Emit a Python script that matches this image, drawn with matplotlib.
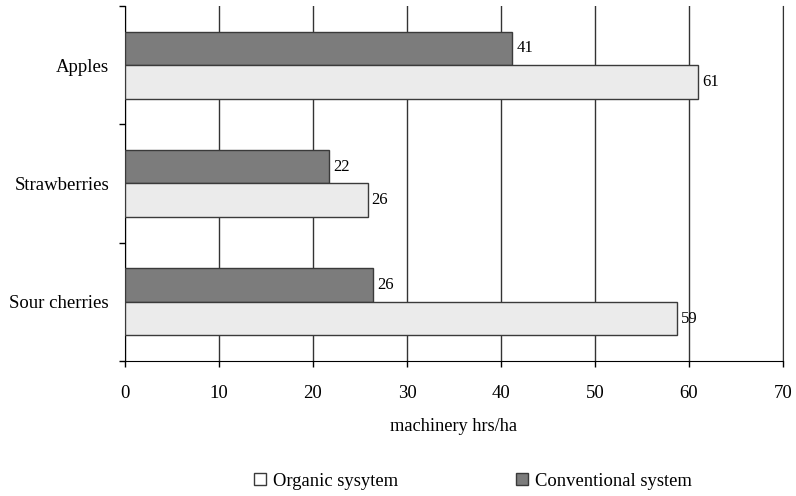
import matplotlib
matplotlib.use("Agg")
import matplotlib.pyplot as plt
from matplotlib.patches import Patch
import numpy as np

categories = ["Apples", "Strawberries", "Sour cherries"]
conventional = [41.2, 21.7, 26.4]
organic = [61.0, 25.8, 58.7]
conv_labels = ["41", "22", "26"]
org_labels = ["61", "26", "59"]
xticks = [0, 10, 20, 30, 40, 50, 60, 70]

plt.rcParams['font.family'] = ['Liberation Serif', 'DejaVu Serif']

fig = plt.figure(figsize=(7.96, 4.96), dpi=100)
ax = fig.add_axes([125/796, 1-361/496, (783-125)/796, (361-6)/496])

y = np.arange(len(categories))
h = 0.283
conv_color = '#7c7c7c'
org_color = '#ebebeb'
edge = '#3a3a3a'

ax.set_axisbelow(True)
ax.xaxis.grid(True, color='#333333', linewidth=1.0)
b1 = ax.barh(y - h/2, conventional, height=h, color=conv_color, edgecolor=edge, linewidth=1.0, zorder=3)
b2 = ax.barh(y + h/2, organic, height=h, color=org_color, edgecolor=edge, linewidth=1.0, zorder=3)

for rect, lab in zip(b1, conv_labels):
    ax.annotate(lab, (rect.get_width(), rect.get_y() + rect.get_height()/2),
                xytext=(3, 0), textcoords='offset points', va='center', ha='left', fontsize=12)
for rect, lab in zip(b2, org_labels):
    ax.annotate(lab, (rect.get_width(), rect.get_y() + rect.get_height()/2),
                xytext=(3, 0), textcoords='offset points', va='center', ha='left', fontsize=12)

ax.set_xlim(0, 70)
ax.set_ylim(len(categories) - 0.5, -0.5)
ax.set_xticks(xticks)
ax.set_xticklabels([str(t) for t in xticks], fontsize=13.5)
ax.set_yticks(y)
ax.set_yticklabels(categories, fontsize=13.5)
ax.set_yticks(np.arange(-0.5, len(categories), 1.0), minor=True)
ax.tick_params(axis='y', which='major', length=0, pad=11.5)
ax.tick_params(axis='y', which='minor', length=4.5, width=1.0, direction='out')
ax.tick_params(axis='x', which='major', length=4.5, width=1.0, direction='out', pad=12.5)

ax.spines['top'].set_visible(False)
ax.spines['right'].set_color('#333333')
ax.spines['left'].set_color('black')
ax.spines['bottom'].set_color('black')

ax.set_xlabel("machinery hrs/ha", fontsize=13.2, labelpad=11.5)

handles = [Patch(facecolor='white', edgecolor=edge, label='Organic sysytem'),
           Patch(facecolor=conv_color, edgecolor=edge, label='Conventional system')]
fig.legend(handles=handles, loc='center', bbox_to_anchor=(473/796, 1-481/496), ncol=2,
           frameon=False, fontsize=13.4, handlelength=0.65, handleheight=0.65,
           handletextpad=0.4, columnspacing=6.3, borderpad=0)

fig.savefig("out.png", dpi=100)
